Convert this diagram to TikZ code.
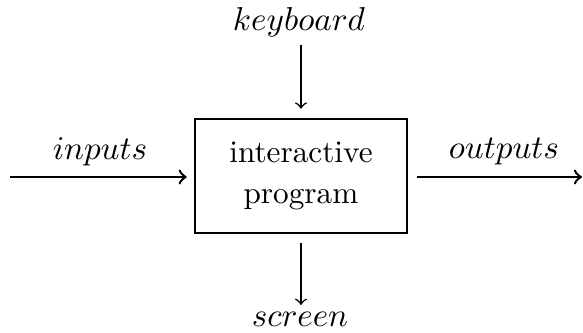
\documentclass[tikz,border=0pt]{standalone}
\begin{document}
\begin{tikzpicture}[x=0.32pt,y=-0.32pt,
  lbl/.style={inner sep=0pt,scale=1.06,transform shape},
  prog/.style={draw,line width=0.8pt,minimum width=212*0.32pt,minimum height=114*0.32pt,inner sep=0pt,align=center},
  hflow/.style={->,line width=0.8pt},
  vflow/.style={->,line width=0.5pt}]
\useasboundingbox (0,0) rectangle (583,333);
\node[prog] (box) at (301,176) {interactive\\[1pt]program};
\node[lbl] (kb) at (299,22) {$keyboard$};
\node[lbl] (sc) at (300,319) {$screen$};
\node[lbl] (in) at (100,152) {$inputs$};
\node[lbl] (out) at (504,152) {$outputs$};
\coordinate (kbA) at (301,45);
\coordinate (scB) at (301,305);
\coordinate (inA) at (10,177);
\coordinate (outB) at (582,177);
\draw[vflow,shorten >=9*0.32pt] (kbA) -- (box.north);
\draw[vflow,shorten <=9*0.32pt] (box.south) -- (scB);
\draw[hflow,shorten >=7*0.32pt] (inA) -- (inA -| box.west);
\draw[hflow,shorten <=9*0.32pt] (outB -| box.east) -- (outB);
\end{tikzpicture}
\end{document}
